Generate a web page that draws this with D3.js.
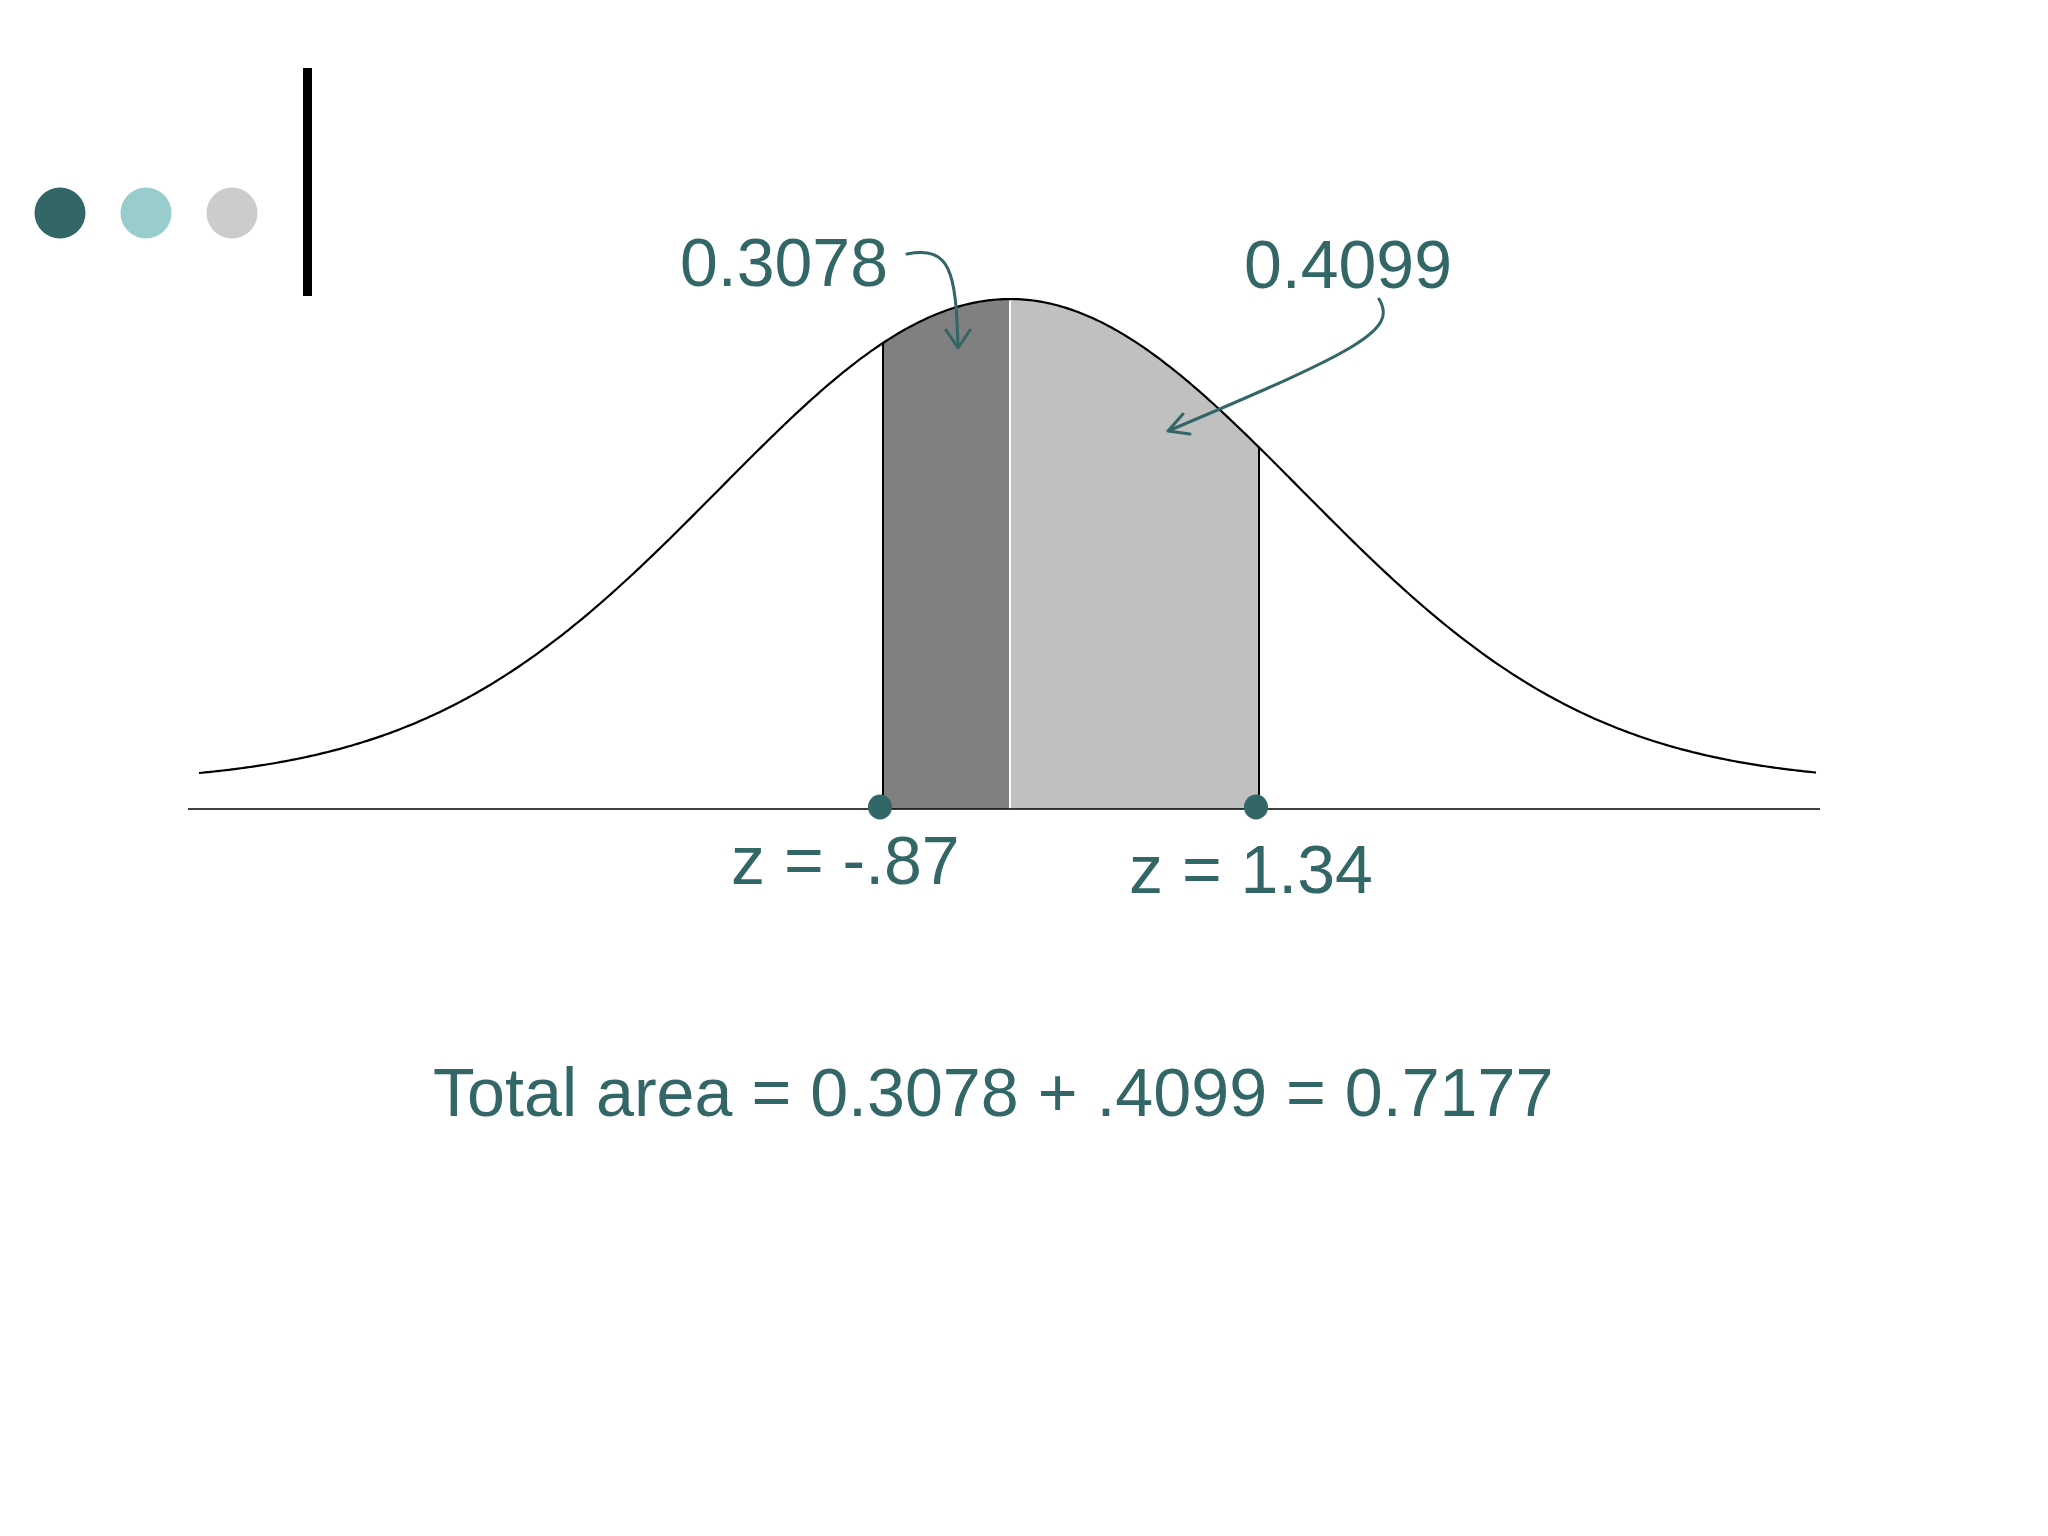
<!DOCTYPE html>
<html>
<head>
<meta charset="utf-8">
<script src="https://cdn.jsdelivr.net/npm/d3@7"></script>
<style>
  html, body { margin: 0; padding: 0; background: #fff; }
  svg { display: block; }
</style>
</head>
<body>
<div id="chart"></div>
<script>
// values
var zValues = [-0.87, 1.34];
var zLabels = ["z = -.87", "z = 1.34"];
var areaValues = [0.3078, 0.4099];
var areaLabels = ["0.3078", "0.4099"];
var totalLabel = "Total area = 0.3078 + .4099 = 0.7177";
var bulletColors = ["#336666", "#99cccc", "#cccccc"];

var width = 2048, height = 1536;
var teal = "#336666";
var fontFamily = "'Liberation Sans', Arial, sans-serif";

var svg = d3.select("#chart").append("svg")
  .attr("width", width)
  .attr("height", height);

// slide decoration: three bullets and a bar
var bulletX = d3.scalePoint().domain(d3.range(bulletColors.length)).range([60, 232]);
svg.selectAll("circle.bullet")
  .data(bulletColors)
  .enter().append("circle")
  .attr("class", "bullet")
  .attr("cx", function (d, i) { return bulletX(i); })
  .attr("cy", 213)
  .attr("r", 25.5)
  .attr("fill", function (d) { return d; });

svg.append("rect")
  .attr("x", 303).attr("y", 68)
  .attr("width", 9).attr("height", 228)
  .attr("fill", "#000");

// scales
var baseY = 809;
var meanX = 1010;
var sdPx = 291;
// the drawing is schematic, so z labels sit on their own scale
var zScale = d3.scaleLinear().domain([zValues[0], 0, zValues[1]]).range([883, meanX, 1259]);
var curveX = d3.scaleLinear().domain([-1, 1]).range([meanX - sdPx, meanX + sdPx]);
function pdf(z) { return Math.exp(-z * z / 2) / Math.sqrt(2 * Math.PI); }
var yScale = d3.scaleLinear().domain([0, pdf(0)]).range([783, 299]);
function curveY(px) { return yScale(pdf(curveX.invert(px))); }

// shaded areas
var area = d3.area()
  .x(function (d) { return d; })
  .y0(baseY)
  .y1(function (d) { return curveY(d); });

var bands = [
  { from: zScale(zValues[0]), to: zScale(0), fill: "#808080" },
  { from: zScale(0), to: zScale(zValues[1]), fill: "#c0c0c0" }
];
svg.selectAll("path.band")
  .data(bands)
  .enter().append("path")
  .attr("class", "band")
  .attr("fill", function (d) { return d.fill; })
  .attr("d", function (d) {
    var pts = d3.range(d.from, d.to, 1).concat([d.to]);
    return area(pts);
  });

// thin white gap at the mean
svg.append("line")
  .attr("x1", zScale(0)).attr("x2", zScale(0))
  .attr("y1", curveY(zScale(0)) + 2).attr("y2", baseY + 2)
  .attr("stroke", "#fff").attr("stroke-width", 2);

// axis line
svg.append("line")
  .attr("x1", 188).attr("x2", 1820)
  .attr("y1", baseY).attr("y2", baseY)
  .attr("stroke", "#000").attr("stroke-width", 1.6);

// the bell curve
var line = d3.line()
  .x(function (d) { return d; })
  .y(function (d) { return curveY(d); })
  .curve(d3.curveBasis);
var xs = d3.range(199, 1817, 3);
svg.append("path")
  .attr("d", line(xs))
  .attr("fill", "none")
  .attr("stroke", "#000")
  .attr("stroke-width", 2.2);

// boundary verticals
svg.selectAll("line.edge")
  .data(zValues)
  .enter().append("line")
  .attr("class", "edge")
  .attr("x1", function (d) { return zScale(d); })
  .attr("x2", function (d) { return zScale(d); })
  .attr("y1", function (d) { return curveY(zScale(d)); })
  .attr("y2", baseY)
  .attr("stroke", "#000").attr("stroke-width", 2);

// markers on the axis
svg.selectAll("ellipse.marker")
  .data(zValues)
  .enter().append("ellipse")
  .attr("class", "marker")
  .attr("cx", function (d) { return zScale(d) - 3; })
  .attr("cy", 807)
  .attr("rx", 12).attr("ry", 12.5)
  .attr("fill", teal);

// z labels
var zLabelPos = [{ x: 731, y: 884 }, { x: 1129, y: 893 }];
svg.selectAll("text.zlab")
  .data(zLabels)
  .enter().append("text")
  .attr("class", "zlab")
  .attr("x", function (d, i) { return zLabelPos[i].x; })
  .attr("y", function (d, i) { return zLabelPos[i].y; })
  .attr("font-family", fontFamily)
  .attr("font-size", 68)
  .attr("fill", teal)
  .text(function (d) { return d; });

// area labels
var areaLabelPos = [{ x: 680, y: 286 }, { x: 1244, y: 288 }];
svg.selectAll("text.alab")
  .data(areaLabels)
  .enter().append("text")
  .attr("class", "alab")
  .attr("x", function (d, i) { return areaLabelPos[i].x; })
  .attr("y", function (d, i) { return areaLabelPos[i].y; })
  .attr("font-family", fontFamily)
  .attr("font-size", 68)
  .attr("fill", teal)
  .text(function (d) { return d; });

// arrows from labels into the areas
var arrows = [
  { d: "M907,254 C950,246 956,270 958,348", head: "M946,330 L958,348 L970,330" },
  { d: "M1379,299 C1398,330 1360,350 1168,431", head: "M1183,414 L1168,431 L1190,434" }
];
svg.selectAll("path.arrow")
  .data(arrows)
  .enter().append("path")
  .attr("class", "arrow")
  .attr("d", function (d) { return d.d + " " + d.head; })
  .attr("fill", "none")
  .attr("stroke", teal)
  .attr("stroke-width", 3)
  .attr("stroke-linecap", "round")
  .attr("stroke-linejoin", "round");

// total
svg.append("text")
  .attr("x", 433)
  .attr("y", 1116)
  .attr("font-family", fontFamily)
  .attr("font-size", 68.2)
  .attr("fill", teal)
  .text(totalLabel);
</script>
</body>
</html>
